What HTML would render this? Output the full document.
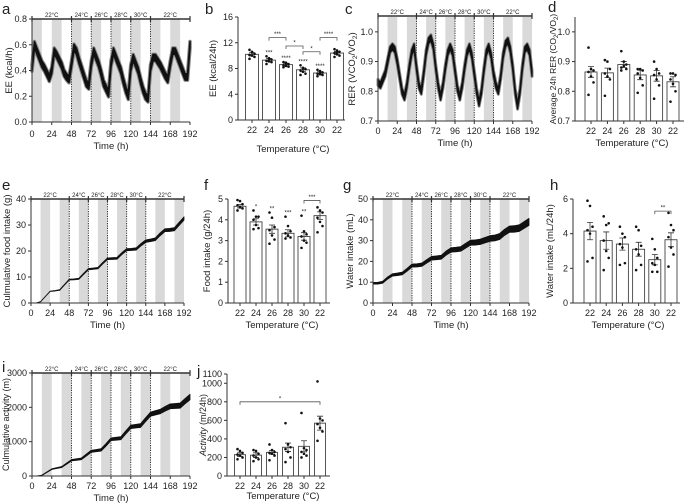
<!DOCTYPE html>
<html><head><meta charset="utf-8"><style>
body{margin:0;background:#fff;}
svg{display:block;font-family:"Liberation Sans",Arial,sans-serif;}
</style></head><body>
<svg id="fig" width="685" height="504" viewBox="0 0 685 504" xmlns="http://www.w3.org/2000/svg"></svg>
<script>
// ---- data (time series, every 3h for a/c, every 6h for e/g/i) ----
const eeMean=[0.42,0.6,0.55,0.5,0.45,0.42,0.38,0.34,0.4,0.55,0.52,0.48,0.44,0.38,0.35,0.33,0.45,0.58,0.55,0.48,0.42,0.36,0.30,0.28,0.45,0.55,0.5,0.45,0.38,0.3,0.26,0.22,0.45,0.55,0.5,0.45,0.4,0.32,0.25,0.2,0.42,0.5,0.45,0.4,0.32,0.25,0.2,0.18,0.42,0.5,0.5,0.47,0.44,0.4,0.36,0.33,0.45,0.55,0.55,0.5,0.45,0.4,0.35,0.35,0.6];
const rerMean=[0.83,0.82,0.84,0.86,0.9,0.94,0.95,0.94,0.9,0.85,0.8,0.78,0.82,0.88,0.93,0.95,0.88,0.82,0.8,0.86,0.93,0.97,0.98,0.95,0.88,0.82,0.78,0.82,0.88,0.93,0.95,0.93,0.87,0.81,0.78,0.82,0.88,0.93,0.95,0.92,0.86,0.8,0.76,0.8,0.87,0.93,0.95,0.92,0.86,0.82,0.8,0.85,0.92,0.96,0.97,0.94,0.88,0.8,0.75,0.8,0.88,0.94,0.95,0.93,0.86];
const foodMean=[0,0,0.5,2.5,4.5,4.7,5.0,7.0,9.0,9.1,9.3,11.2,13.0,13.2,13.4,15.3,17.0,17.1,17.2,19.0,20.5,20.6,20.8,22.4,23.8,24.1,24.5,26.4,28.0,28.1,28.4,30.5,32.5];
const waterMean=[9.5,9.5,10,12,13.5,13.8,14.2,16,18,18.1,18.4,20,21.5,21.7,22,24,25.5,25.7,26,27.5,29,29.1,29.4,30.2,31,31.3,32,34,35.5,35.6,36,37.5,39];
const actMean=[0,0,20,110,200,230,260,360,460,480,500,610,720,740,760,910,1070,1085,1100,1270,1430,1450,1470,1640,1800,1840,1880,1960,2030,2040,2050,2180,2300];
const tempLabels=["22°C","24°C","26°C","28°C","30°C","22°C"];
const tempBounds=[0,48,72,96,120,144,192];
const timeTicks=[0,24,48,72,96,120,144,168,192];
// ---- data (bar charts) ----
const barCats=["22","24","26","28","30","22"];
const eeBar=[10.2,9.3,8.6,7.8,7.3,10.4];
const eeSem=[0.25,0.25,0.2,0.3,0.2,0.25];
const eePts=[[10.9,10.5,10.3,10.1,10.0,9.8,9.5,10.6],[9.9,9.6,9.4,9.2,9.1,9.0,8.7,9.5],[9.0,8.8,8.7,8.5,8.4,8.3,8.2,8.9],[8.5,8.1,7.9,7.7,7.5,7.2,7.0,8.0],[7.8,7.6,7.4,7.2,7.1,7.0,6.8,7.3],[11.0,10.8,10.6,10.4,10.2,10.0,9.8,10.5]];
const eeStars=["","***","****","****","****",""];
const rerBar=[0.865,0.862,0.89,0.855,0.852,0.832];
const rerSem=[0.018,0.016,0.01,0.016,0.018,0.017];
const rerPts=[[0.947,0.875,0.87,0.865,0.85,0.83,0.788],[0.905,0.9,0.875,0.86,0.85,0.84,0.785],[0.935,0.9,0.89,0.88,0.885,0.875,0.87],[0.875,0.875,0.87,0.86,0.845,0.82,0.795],[0.9,0.875,0.86,0.855,0.84,0.82,0.775],[0.86,0.86,0.855,0.84,0.825,0.8,0.765]];
const foodBar=[4.65,3.9,3.55,3.35,3.2,4.2];
const foodSem=[0.08,0.15,0.2,0.17,0.18,0.18];
const foodPts=[[4.95,4.9,4.75,4.7,4.6,4.55,4.45],[4.45,4.15,4.15,4.0,3.75,3.6,3.55],[4.35,4.1,3.65,3.5,3.25,3.05,2.85],[4.15,3.7,3.45,3.35,3.25,3.15,3.1],[4.2,3.45,3.3,3.2,3.0,2.9,2.65],[4.6,4.45,4.35,4.1,3.9,3.7,3.4]];
const foodStars=["","*","**","***","**",""];
const waterBar=[4.15,3.6,3.4,3.1,2.5,3.65];
const waterSem=[0.5,0.5,0.35,0.4,0.3,0.4];
const waterPts=[[5.9,5.6,4.4,4.2,4.0,2.6,2.4],[5.0,4.5,4.6,3.6,3.0,2.6,1.9],[4.4,4.0,3.8,3.4,3.2,2.3,2.2],[4.4,4.2,3.3,3.1,2.8,2.2,1.9],[3.7,3.1,2.6,2.3,2.2,1.8,1.8],[5.2,4.5,4.2,3.8,3.2,2.8,2.1]];
const actBar=[230,225,255,310,320,570];
const actSem=[20,25,20,45,60,75];
const actPts=[[290,270,250,230,220,200,180],[280,270,240,220,200,180,160],[340,280,260,250,240,220,170],[570,340,310,290,260,200,150],[680,300,280,260,240,220,200],[1020,620,600,560,520,480,380]];

const NS="http://www.w3.org/2000/svg";
const fig=document.getElementById("fig");
function mk(tag,attrs,parent){const e=document.createElementNS(NS,tag);for(const k in attrs)e.setAttribute(k,attrs[k]);(parent||fig).appendChild(e);return e;}
function txt(s,x,y,size,anchor,parent,rot){const t=mk("text",{x:x,y:y,"font-size":size,"text-anchor":anchor||"middle",fill:"#222"},parent);if(rot)t.setAttribute("transform","rotate(-90 "+x+" "+y+")");t.textContent=s;return t;}

function letter(s,x,y){const t=txt(s,x,y,15,"start");

}

function yAxis(g,ax,yTop,yBot,ymin,ymax,ticks,fmt,title,titleX,key,tfs){
  const ys=v=>yBot-(v-ymin)/(ymax-ymin)*(yBot-yTop);
  const l=mk("line",{x1:ax,x2:ax,y1:yTop,y2:yBot,stroke:"#333","stroke-width":1},g);
  
  
  ticks.forEach(v=>{const y=ys(v);
    const tk=mk("line",{x1:ax-3,x2:ax,y1:y,y2:y,stroke:"#333"},g);
    
    
    const tl=txt(fmt(v),ax-5,y+3,9,"end",g);
    
    });
  const tt=txt("",titleX,(yTop+yBot)/2,tfs||9.5,"middle",g,true);
  tt.innerHTML=title;
  
  
  return ys;
}

function tsPanel(key,c,mean,step,half){
  const g=mk("g",{});
  
  
  const xs=t=>c.x0+t/192*(c.x1-c.x0);
  const ys=v=>c.yBot-(v-c.ymin)/(c.ymax-c.ymin)*(c.yBot-c.yTop);
  for(let s=c.off;s<192;s+=24){const e=Math.min(s+12,192);
    const r=mk("rect",{x:xs(s),y:c.yTop,width:xs(e)-xs(s),height:c.yBot-c.yTop,fill:"#d9d9d9"},g);
    
    }
  tempBounds.slice(1,-1).forEach(b=>{const l=mk("line",{x1:xs(b),x2:xs(b),y1:c.bl,y2:c.yBot,stroke:"#333","stroke-dasharray":"1.2,1.2"},g);
    
    });
  const up=[],dn=[];
  mean.forEach((v,i)=>{const h=half(i);up.push(xs(i*step)+","+ys(v+h));dn.unshift(xs(i*step)+","+ys(v-h));});
  if(c.halo){const p2=mk("polygon",{points:up.concat(dn).join(" "),fill:"#888",stroke:"#888","stroke-width":c.halo,"stroke-linejoin":"round"},g);
    
    }
  const p=mk("polygon",{points:up.concat(dn).join(" "),fill:"#111",stroke:"#111","stroke-width":c.sw,"stroke-linejoin":"round"},g);
  
  
  const bl=mk("line",{x1:c.x0,x2:c.x1,y1:c.bl,y2:c.bl,stroke:"#333","stroke-width":1.5},g);
  
  
  tempBounds.forEach(b=>{const l=mk("line",{x1:xs(b),x2:xs(b),y1:c.bl-3,y2:c.bl+3,stroke:"#333","stroke-width":1.2},g);
    
    });
  tempLabels.forEach((s,i)=>{const t=txt(s,(xs(tempBounds[i])+xs(tempBounds[i+1]))/2,c.bl-2,6,"middle",g);
    
    });
  yAxis(g,c.x0,c.yTop,c.yBot,c.ymin,c.ymax,c.ticks,c.fmt,c.title,c.tx,key,c.tfs);
  const xa=mk("line",{x1:c.x0,x2:c.x1,y1:c.yBot,y2:c.yBot,stroke:"#333"},g);
  
  
  timeTicks.forEach(t=>{const tk=mk("line",{x1:xs(t),x2:xs(t),y1:c.yBot,y2:c.yBot+3,stroke:"#333"},g);
    
    
    const tl=txt(String(t),xs(t),c.lblY,9,"middle",g);
    
    });
  const xt=txt("Time (h)",(c.x0+c.x1)/2,c.ttlY,9.5,"middle",g);
  
  
}

function barPanel(key,c,means,sems,pts,stars,brackets){
  const g=mk("g",{});
  
  
  const ys=yAxis(g,c.ax,c.yTop,c.yBot,c.ymin,c.ymax,c.ticks,c.fmt,c.title,c.tx,key,c.tfs);
  const xs=i=>c.c0+i*c.dx;
  means.forEach((m,i)=>{const x=xs(i);
    const r=mk("rect",{x:x-c.w/2,y:ys(m),width:c.w,height:c.yBot-ys(m),fill:"#fff",stroke:"#444","stroke-width":0.9},g);
    
    
    const e=mk("path",{d:"M"+x+","+ys(m-sems[i])+"V"+ys(m+sems[i])+"M"+(x-3)+","+ys(m+sems[i])+"H"+(x+3)+"M"+(x-3)+","+ys(m-sems[i])+"H"+(x+3),stroke:"#333","stroke-width":0.8,fill:"none"},g);
    
    
    pts[i].forEach((v,j)=>{const d=mk("circle",{cx:x+((j%3)-1)*2.5,cy:ys(v),r:1.3,fill:"#111"},g);
      
      });
    if(stars&&stars[i]){const top=Math.max(...pts[i],m+sems[i]);
      const s=txt(stars[i],x,ys(top)-2,6,"middle",g);
      
      }
    const tk=mk("line",{x1:x,x2:x,y1:c.yBot,y2:c.yBot+3,stroke:"#333"},g);
    
    
    const tl=txt(barCats[i],x,c.lblY,9,"middle",g);
    
    });
  const xa=mk("line",{x1:c.ax,x2:c.xEnd,y1:c.yBot,y2:c.yBot,stroke:"#333"},g);
  
  
  (brackets||[]).forEach(b=>{const y=ys(b[2]),xa1=xs(b[0]),xb=xs(b[1]);
    const p=mk("path",{d:"M"+xa1+","+(y+3)+"V"+y+"H"+xb+"V"+(y+3),stroke:"#555","stroke-width":0.8,fill:"none"},g);
    
    
    const t=txt(b[3],(xa1+xb)/2,y-1.5,6,"middle",g);
    
    });
  const xt=txt("Temperature (°C)",c.ttlX,c.ttlY,9.5,"middle",g);
  
  
}

const f1=v=>v.toFixed(1), f0=v=>String(v);
letter("a",2,14);
tsPanel("ee",{x0:32,x1:190,yTop:19,yBot:122,ymin:0,ymax:0.8,ticks:[0,0.2,0.4,0.6,0.8],fmt:f1,title:"EE (kcal/h)",tx:12,off:0,bl:19,sw:1.5,halo:3.5,lblY:137,ttlY:149},eeMean,3,i=>0.025);
letter("b",205,14);
barPanel("ee24",{ax:238,yTop:17,yBot:120,ymin:0,ymax:16,ticks:[0,4,8,12,16],fmt:f0,title:"EE (kcal/24h)",tx:216,c0:252,dx:17,w:13,xEnd:345,lblY:133,ttlX:293,ttlY:152},eeBar,eeSem,eePts,eeStars,[[1,2,12.8,"***"],[2,3,11.5,"*"],[3,4,10.6,"*"],[4,5,12.8,"****"]]);
letter("c",345,14);
tsPanel("rer",{x0:378,x1:532,yTop:17,yBot:121,ymin:0.7,ymax:1.05,ticks:[0.7,0.8,0.9,1.0],fmt:f1,title:"RER (VCO<tspan font-size='6.5' dy='2'>2</tspan><tspan dy='-2'>/VO</tspan><tspan font-size='6.5' dy='2'>2</tspan><tspan dy='-2'>)</tspan>",tx:355,off:12,bl:16,sw:1.2,halo:3,lblY:134,ttlY:146},rerMean,3,i=>0.01);
letter("d",548,12);
barPanel("rer24",{ax:575,yTop:17,yBot:121,ymin:0.7,ymax:1.05,ticks:[0.7,0.8,0.9,1.0],fmt:f1,title:"Average 24h RER (CO<tspan font-size='6' dy='2'>2</tspan><tspan dy='-2'>/VO</tspan><tspan font-size='6' dy='2'>2</tspan><tspan dy='-2'>)</tspan>",tx:556,tfs:8.5,c0:591,dx:16.4,w:12,xEnd:684,lblY:134,ttlX:632,ttlY:146},rerBar,rerSem,rerPts,null,[]);
letter("e",2,190);
tsPanel("food",{x0:31,x1:184,yTop:199,yBot:303,ymin:0,ymax:40,ticks:[0,10,20,30,40],fmt:f0,title:"Culmulative food intake (g)",tx:10,off:12,bl:199,sw:0.8,lblY:316,ttlY:328},foodMean,6,i=>i*0.02);
letter("f",204,190);
barPanel("food24",{ax:228,yTop:199,yBot:303,ymin:0,ymax:5,ticks:[0,1,2,3,4,5],fmt:f0,title:"Food intake (g/24h)",tx:210,c0:240,dx:16,w:12,xEnd:330,lblY:316,ttlX:282,ttlY:328},foodBar,foodSem,foodPts,foodStars,[[4,5,4.93,"***"]]);
letter("g",343,190);
tsPanel("water",{x0:373,x1:529,yTop:199,yBot:303,ymin:0,ymax:50,ticks:[0,10,20,30,40,50],fmt:f0,title:"Water intake (mL)",tx:353,off:12,bl:199,sw:0.8,lblY:316,ttlY:328},waterMean,6,i=>0.4+i*0.04);
letter("h",550,190);
barPanel("water24",{ax:573,yTop:199,yBot:303,ymin:0,ymax:6,ticks:[0,2,4,6],fmt:f0,title:"Water intake (mL/24h)",tx:553,c0:590,dx:16.2,w:12,xEnd:680,lblY:316,ttlX:628,ttlY:328},waterBar,waterSem,waterPts,null,[[4,5,5.3,"**"]]);
letter("i",2,372);
tsPanel("act",{x0:32,x1:190,yTop:373,yBot:476,ymin:0,ymax:3000,ticks:[0,1000,2000,3000],fmt:f0,title:"Culmulative activity (m)",tx:9,tfs:9,off:12,bl:373,sw:0.8,lblY:489,ttlY:501},actMean,6,i=>i*2.5);
letter("j",197,376);
barPanel("act24",{ax:227,yTop:374,yBot:476,ymin:0,ymax:1100,ticks:[0,200,400,600,800,1000,1100],fmt:f0,title:"<tspan font-style='italic'>Activity</tspan> (m/24h)",tx:206,tfs:9,c0:240,dx:16,w:11,xEnd:330,lblY:489,ttlX:283,ttlY:499},actBar,actSem,actPts,null,[[0,5,800,"*"]]);
</script>
</body></html>
